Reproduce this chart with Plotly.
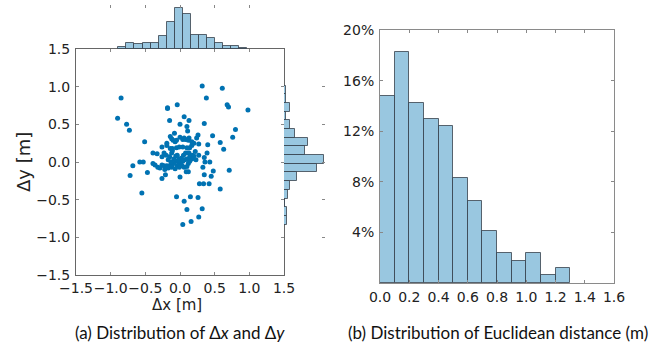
import plotly.graph_objects as go

# ---------------- data ----------------
# scatter of position errors (metres)
dx = [-0.85, -0.90, -0.77, -0.73, 0.32, 0.61, 0.38, 0.68, 0.70, 0.98,
      -0.18, -0.18, -0.04, 0.06, 0.13, -0.15, 0.00, 0.35, 0.80, 0.76,
      0.47, 0.26, 0.10, 0.11, -0.08, -0.51, -0.39, -0.68, -0.72, -0.58,
      -0.53, -0.47, -0.55, -0.26, -0.32, -0.26, 0.58, 0.63, 0.40, 0.39,
      0.35, 0.43, 0.36, 0.33, 0.48, 0.71, 0.35, 0.45, 0.34, 0.42,
      0.28, 0.58, -0.05, 0.15, 0.26, 0.06, 0.10, 0.32, 0.27, 0.16,
      0.04, 0.00, 0.12, -0.21,
      -0.19, -0.14, -0.12, -0.10, -0.07, -0.05, 0.00, 0.04, 0.06, 0.08,
      0.12, 0.13, 0.17, 0.20, 0.24, 0.27, 0.17, 0.14, 0.10, 0.04,
      -0.01, -0.05, -0.11, -0.14, -0.19, -0.23, -0.20, -0.15, -0.12, -0.11,
      -0.09, -0.06, -0.04, -0.02, -0.01, 0.02, 0.05, 0.08, 0.11, 0.13,
      0.15, 0.18, 0.20, 0.17, 0.13, 0.10, 0.07, 0.04, 0.01, -0.02,
      -0.06, -0.09, -0.12, -0.15, -0.19, -0.23, -0.26, -0.29, -0.36, -0.39,
      -0.22, -0.17, -0.12, -0.07, -0.04, -0.01, 0.03, 0.06, 0.10, 0.09,
      0.12, 0.14, -0.26, -0.33, -0.17, -0.13, 0.22, 0.23, 0.27]
dy = [0.85, 0.58, 0.50, 0.42, 1.01, 0.98, 0.85, 0.76, 0.73, 0.69,
      0.72, 0.71, 0.76, 0.60, 0.55, 0.55, 0.50, 0.51, 0.43, 0.33,
      0.35, 0.36, 0.47, 0.41, 0.38, 0.27, 0.12, -0.05, -0.18, 0.00,
      0.00, -0.14, -0.41, 0.20, -0.07, -0.22, 0.26, 0.17, 0.23, 0.12,
      0.06, 0.00, 0.00, -0.07, -0.12, -0.11, -0.17, -0.19, -0.29, -0.29,
      -0.29, -0.36, -0.46, -0.46, -0.47, -0.52, -0.63, -0.62, -0.73, -0.79,
      -0.83, -0.20, -0.13, -0.17,
      0.25, 0.34, 0.31, 0.29, 0.27, 0.29, 0.33, 0.30, 0.32, 0.30,
      0.29, 0.32, 0.27, 0.25, 0.32, 0.24, 0.22, 0.19, 0.19, 0.20,
      0.20, 0.19, 0.18, 0.18, 0.22, 0.12, 0.09, 0.07, 0.12, 0.15,
      0.04, 0.08, 0.09, 0.03, 0.04, 0.05, 0.09, 0.12, 0.12, 0.12,
      0.08, 0.09, 0.08, 0.04, 0.05, 0.04, 0.03, 0.01, -0.02, 0.00,
      0.01, -0.02, -0.05, -0.05, -0.05, -0.05, -0.04, -0.08, -0.04, -0.02,
      -0.10, -0.08, -0.07, -0.09, -0.05, -0.07, -0.05, -0.07, -0.06, -0.13,
      -0.02, 0.01, 0.07, 0.11, 0.03, 0.00, 0.14, 0.03, 0.09]

# marginal histogram of dx (bin centres, counts)
dx_bin_centers = [-0.831, -0.715, -0.599, -0.482, -0.366, -0.250, -0.134, -0.017,
                  0.099, 0.215, 0.332, 0.448, 0.564, 0.680, 0.797, 0.913]
dx_counts = [2, 5, 4, 5, 5, 11, 24, 36, 31, 12, 12, 10, 5, 3, 3, 1]
dx_bin_width = 0.1163

# marginal histogram of dy (bin centres, counts)
dy_bin_centers = [-0.772, -0.657, -0.542, -0.427, -0.311, -0.196, -0.081, 0.034,
                  0.150, 0.265, 0.380, 0.495, 0.610, 0.725, 0.841, 0.956]
dy_counts = [3, 3, 1, 4, 6, 12, 31, 38, 20, 23, 10, 6, 2, 6, 2, 2]
dy_bin_width = 0.1152

# Euclidean distance histogram (bin centres in m, share in %)
dist_centers = [0.05, 0.15, 0.25, 0.35, 0.45, 0.55, 0.65, 0.75, 0.85, 0.95, 1.05, 1.15, 1.25]
dist_pct = [14.8, 18.3, 14.2, 13.0, 12.4, 8.3, 6.5, 4.15, 2.35, 1.75, 2.35, 0.6, 1.2]
dist_bin_width = 0.1

xy_ticks = [-1.5, -1.0, -0.5, 0.0, 0.5, 1.0, 1.5]
dist_xticks = [0.0, 0.2, 0.4, 0.6, 0.8, 1.0, 1.2, 1.4, 1.6]
pct_ticks = [4, 8, 12, 16, 20]
pct_labels = ["4%", "8%", "12%", "16%", "20%"]

# ---------------- style ----------------
W, H = 667, 345
def fx(px):
    return px / W
def fy(py):
    return 1 - py / H

PT = "#0072B2"
BAR = "#99C7E0"
EDGE = "rgba(45,55,65,0.75)"
TICKFONT = dict(family="DejaVu Sans", size=14, color="#222222")
CAPFONT = dict(family="Lato", size=17, color="#111111")

fig = go.Figure()

fig.add_trace(go.Scatter(x=dx, y=dy, mode="markers", xaxis="x", yaxis="y",
                         marker=dict(color=PT, size=5, line=dict(width=0)),
                         showlegend=False, hoverinfo="skip"))
fig.add_trace(go.Bar(x=dx_bin_centers, y=dx_counts, width=dx_bin_width,
                     xaxis="x2", yaxis="y2", marker=dict(color=BAR, line=dict(color=EDGE, width=1)),
                     showlegend=False))
fig.add_trace(go.Bar(y=dy_bin_centers, x=dy_counts, width=dy_bin_width, orientation="h",
                     xaxis="x3", yaxis="y3", marker=dict(color=BAR, line=dict(color=EDGE, width=1)),
                     showlegend=False))
fig.add_trace(go.Bar(x=dist_centers, y=dist_pct, width=dist_bin_width,
                     xaxis="x4", yaxis="y4", marker=dict(color=BAR, line=dict(color=EDGE, width=1)),
                     showlegend=False))

main_x = [fx(76), fx(284)]
main_y = [fy(275), fy(49)]

common = dict(showgrid=False, zeroline=False, ticks="inside", ticklen=3,
              tickcolor="#888888", tickwidth=1, automargin=False)

fig.update_layout(
    width=W, height=H, margin=dict(l=0, r=0, t=0, b=0, autoexpand=False),
    paper_bgcolor="white", plot_bgcolor="rgba(0,0,0,0)", bargap=0,
    xaxis=dict(domain=main_x, anchor="y", range=[-1.5, 1.5], tickvals=xy_ticks,
               tickformat=".1f", showline=True, linecolor="#666666", linewidth=1,
               mirror="ticks", tickfont=TICKFONT, tickangle=0, ticklabelstandoff=0, **common),
    yaxis=dict(domain=main_y, anchor="x", range=[-1.5, 1.5], tickvals=xy_ticks,
               tickformat=".1f", showline=True, linecolor="#666666", linewidth=1,
               mirror="ticks", tickfont=TICKFONT, ticklabelstandoff=2, **common),
    xaxis2=dict(domain=main_x, anchor="y2", range=[-1.5, 1.5], tickvals=xy_ticks,
                side="top", showticklabels=False, showline=False, **common),
    yaxis2=dict(domain=[fy(49), fy(5)], anchor="x2", range=[0, 38.5], visible=False),
    xaxis3=dict(domain=[fx(284), fx(325)], anchor="y3", range=[0, 38.5], visible=False),
    yaxis3=dict(domain=main_y, anchor="x3", range=[-1.5, 1.5], tickvals=xy_ticks,
                side="right", showticklabels=False, showline=False, **common),
    xaxis4=dict(domain=[fx(380), fx(614)], anchor="y4", range=[0, 1.6], tickvals=dist_xticks,
                tickformat=".1f", showline=True, linecolor="#8a8a8a", linewidth=1,
                mirror="ticks", tickfont=TICKFONT, tickangle=0, ticklabelstandoff=1, **common),
    yaxis4=dict(domain=[fy(283), fy(30)], anchor="x4", range=[0, 20], tickvals=pct_ticks,
                ticktext=pct_labels, showline=True, linecolor="#8a8a8a", linewidth=1,
                mirror="ticks", tickfont=TICKFONT, ticklabelstandoff=2, **common),
)

annotations = [
    dict(text="Δx [m]", x=fx(177), y=fy(305), xref="paper", yref="paper",
         showarrow=False, font=dict(family="DejaVu Sans", size=15, color="#222222"),
         xanchor="center", yanchor="middle"),
    dict(text="Δy [m]", x=fx(24), y=fy(162), xref="paper", yref="paper", textangle=-90,
         showarrow=False, font=dict(family="DejaVu Sans", size=18, color="#222222"),
         xanchor="center", yanchor="middle"),
    dict(text="(a) Distribution of Δ<i>x</i> and Δ<i>y</i>", x=fx(180), y=fy(332),
         xref="paper", yref="paper", showarrow=False, font=CAPFONT,
         xanchor="center", yanchor="middle"),
    dict(text="(b) Distribution of Euclidean distance (m)", x=fx(498), y=fy(332),
         xref="paper", yref="paper", showarrow=False, font=CAPFONT,
         xanchor="center", yanchor="middle"),
]
fig.update_layout(annotations=annotations)

fig.write_html("out.html", config={"displayModeBar": False},
               post_script="document.body.style.margin='0';document.body.style.overflow='hidden';")
